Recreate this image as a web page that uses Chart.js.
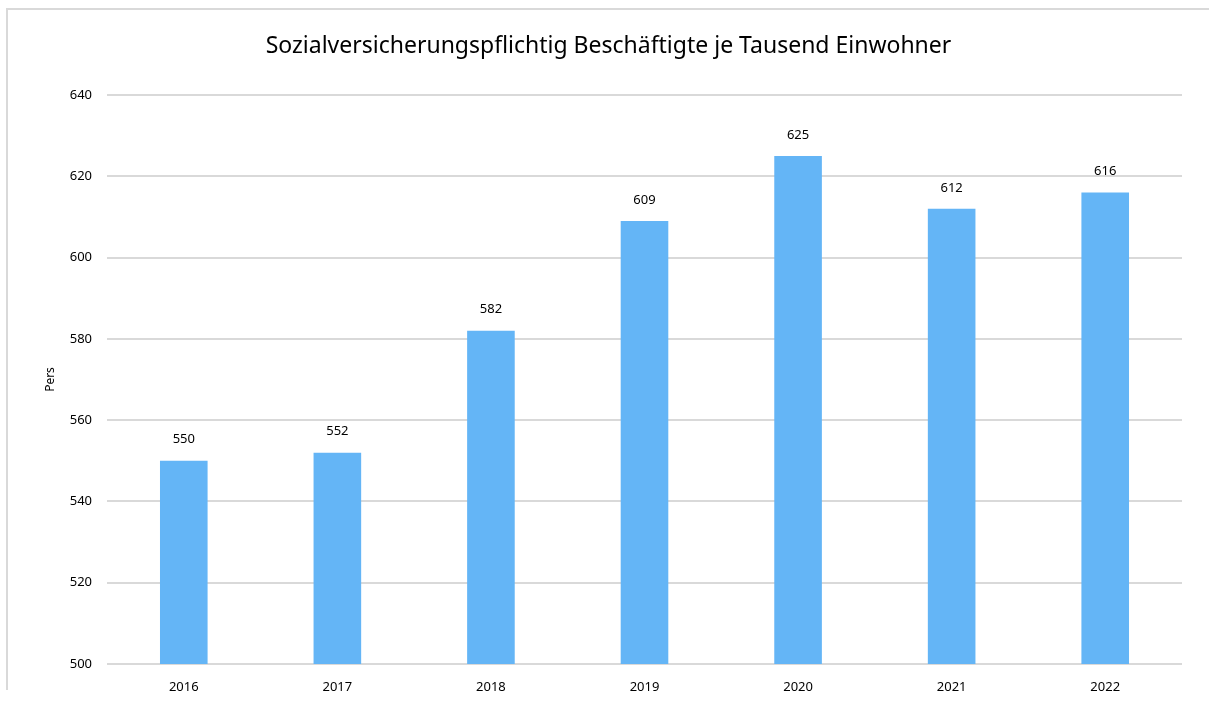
<!DOCTYPE html>
<html lang="de">
<head>
<meta charset="utf-8">
<title>Beschäftigte je Tausend Einwohner</title>
<script src="https://cdn.jsdelivr.net/npm/chart.js@4/dist/chart.umd.min.js"></script>
<style>
    html, body { margin: 0; padding: 0; background: #fff; }
    #wrap { position: relative; width: 1209px; height: 702px; overflow: hidden; }
    #frame {
        position: absolute; left: 6px; top: 8px; width: 1203px; height: 682px;
        border-top: 2px solid #d9d9d9; border-left: 2px solid #d9d9d9;
        box-sizing: border-box;
    }
    #chart { position: absolute; left: 0; top: 0; }
</style>
</head>
<body>
<div id="wrap">
    <div id="frame"></div>
    <canvas id="chart" width="1209" height="702"></canvas>
</div>
<script>
// Jahre und Werte
const years = ['2016', '2017', '2018', '2019', '2020', '2021', '2022'];
const employed = [550, 552, 582, 609, 625, 612, 616];
const yTicks = [500, 520, 540, 560, 580, 600, 620, 640];

const chartTitle = 'Sozialversicherungspflichtig Beschäftigte je Tausend Einwohner';
const yAxisTitle = 'Pers';
const fontFamily = "'Noto Sans', 'Open Sans', sans-serif";

// Überschrift mittig über der ganzen Fläche, Zahlen über den Balken
const labelsPlugin = {
    id: 'labelsPlugin',
    afterDatasetsDraw(chart) {
        const ctx = chart.ctx;
        ctx.save();
        ctx.fillStyle = '#000';
        ctx.textAlign = 'center';
        ctx.textBaseline = 'middle';

        ctx.font = '23px ' + fontFamily;
        ctx.fillText(chartTitle, chart.width / 2 + 4, 46);

        ctx.font = '13px ' + fontFamily;
        chart.getDatasetMeta(0).data.forEach((bar, i) => {
            ctx.fillText(String(employed[i]), bar.x, bar.y - 21);
        });
        ctx.restore();
    }
};

const ctx = document.getElementById('chart').getContext('2d');
new Chart(ctx, {
    type: 'bar',
    data: {
        labels: years,
        datasets: [{
            data: employed,
            backgroundColor: '#64b5f6',
            categoryPercentage: 1,
            barPercentage: 0.31
        }]
    },
    options: {
        responsive: false,
        animation: false,
        layout: { padding: { left: 43, right: 27, top: 95, bottom: 0 } },
        plugins: {
            legend: { display: false },
            tooltip: { enabled: false },
            title: { display: false }
        },
        scales: {
            x: {
                grid: { display: false },
                border: { display: false },
                ticks: {
                    color: '#000',
                    font: { family: fontFamily, size: 13 },
                    padding: 7
                },
                afterFit(scale) { scale.height = 38; }
            },
            y: {
                min: 500,
                max: 640,
                afterBuildTicks(scale) {
                    scale.ticks = yTicks.map(v => ({ value: v }));
                },
                grid: { color: '#d9d9d9', lineWidth: 2, drawTicks: false },
                border: { display: false },
                ticks: {
                    color: '#000',
                    font: { family: fontFamily, size: 13 },
                    padding: 15
                },
                title: {
                    display: true,
                    text: yAxisTitle,
                    color: '#000',
                    font: { family: fontFamily, size: 12 },
                    padding: 0
                },
                afterFit(scale) { scale.width = 64; }
            }
        }
    },
    plugins: [labelsPlugin]
});
</script>
</body>
</html>
